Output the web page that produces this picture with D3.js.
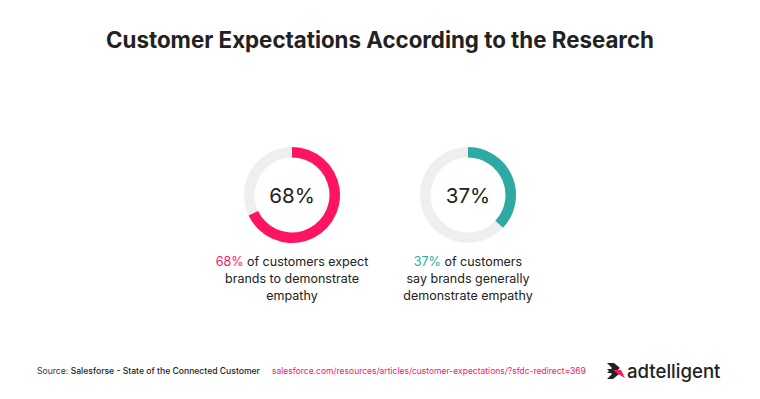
<!DOCTYPE html>
<html>
<head>
<meta charset="utf-8">
<script src="https://cdn.jsdelivr.net/npm/d3@7/dist/d3.min.js"></script>
<style>
  body { margin: 0; background: #fff; }
  svg { display: block; font-family: Inter, "Noto Sans", sans-serif; }
</style>
</head>
<body>
<svg id="chart" width="760" height="399"></svg>
<script>
var values = [68, 37];
var colors = ['#ff1464', '#2eaaa5'];
var captionLines = [
	['of customers expect', 'brands to demonstrate', 'empathy'],
	['of customers', 'say brands generally', 'demonstrate empathy']
];
var sourceText = 'Salesforse - State of the Connected Customer';
var linkText = 'salesforce.com/resources/articles/customer-expectations/?sfdc-redirect=369';

(function () {
	var svg = d3.select('#chart');
	var centers = d3.scalePoint().domain(d3.range(values.length)).range([292, 468]);
	var angle = d3.scaleLinear().domain([0, 100]).range([0, 2 * Math.PI]);
	var cy = 195;
	var arc = d3.arc().innerRadius(37.5).outerRadius(48);

	svg.append('text')
		.attr('x', 380).attr('y', 48)
		.attr('text-anchor', 'middle')
		.attr('font-size', 22.3).attr('font-weight', 700)
		.attr('fill', '#222')
		.text('Customer Expectations According to the Research');

	var g = svg.selectAll('g.donut')
		.data(values)
		.enter().append('g')
		.attr('class', 'donut')
		.attr('transform', function (d, i) {
			return 'translate(' + centers(i) + ',' + cy + ')';
		});

	g.append('path')
		.attr('fill', '#efefef')
		.attr('d', arc({startAngle: 0, endAngle: 2 * Math.PI}));

	g.append('path')
		.attr('fill', function (d, i) { return colors[i]; })
		.attr('d', function (d) {
			return arc({startAngle: 0, endAngle: angle(d)});
		});

	g.append('text')
		.attr('y', 8)
		.attr('text-anchor', 'middle')
		.attr('font-size', 20.5)
		.attr('fill', '#222')
		.text(function (d) { return d + '%'; });

	var cap = svg.selectAll('text.caption')
		.data(values)
		.enter().append('text')
		.attr('class', 'caption')
		.attr('text-anchor', 'middle')
		.attr('font-size', 12.5)
		.attr('fill', '#222');

	cap.each(function (d, i) {
		var t = d3.select(this);
		captionLines[i].forEach(function (line, j) {
			var ts = t.append('tspan')
				.attr('x', centers(i))
				.attr('y', 266 + j * 17.2);
			if (j === 0) {
				ts.append('tspan').attr('fill', colors[i]).text(d + '%');
				ts.append('tspan').text(' ' + line);
			} else {
				ts.text(line);
			}
		});
	});

	var src = svg.append('text')
		.attr('x', 37).attr('y', 374)
		.attr('font-size', 8.6)
		.attr('fill', '#333');
	src.append('tspan').text('Source: ');
	src.append('tspan').attr('font-weight', 500).attr('fill', '#222').text(sourceText);

	svg.append('text')
		.attr('x', 272).attr('y', 374)
		.attr('font-size', 8.5)
		.attr('fill', '#ff1464')
		.text(linkText);

	// logo
	var logo = svg.append('g').attr('transform', 'translate(607,363)');
	logo.append('path').attr('fill', '#222')
		.attr('d', 'M0,0 L7,0 L13,5 L7,10 L0,10 L5,5 Z');
	logo.append('path').attr('fill', '#222')
		.attr('d', 'M0,6 L6,6 L12,11 L6,16 L0,16 L5,11 Z');
	logo.append('path').attr('fill', '#ff1464')
		.attr('d', 'M6,7 L14,7 L18,15 L11,11 Z');
	svg.append('text')
		.attr('x', 627).attr('y', 378)
		.attr('font-size', 18.6).attr('font-weight', 500)
		.attr('fill', '#222')
		.text('adtelligent');
}());
</script>
</body>
</html>
